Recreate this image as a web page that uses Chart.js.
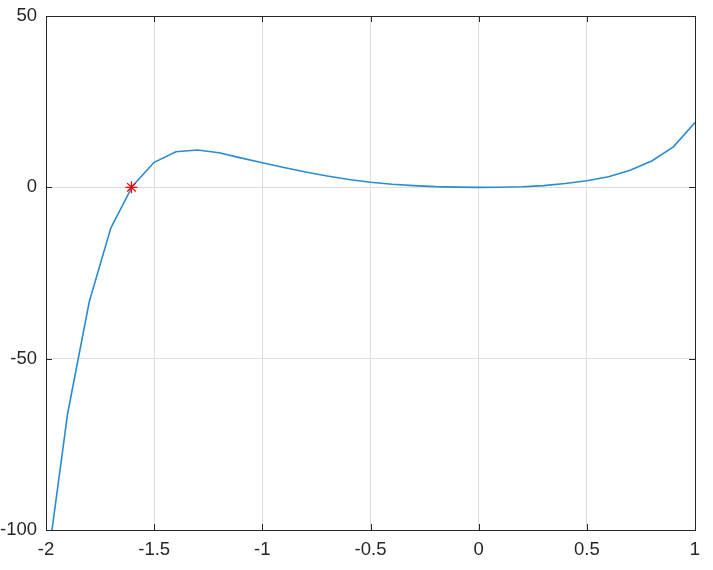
<!DOCTYPE html>
<html>
<head>
<meta charset="utf-8">
<script src="https://cdn.jsdelivr.net/npm/chart.js@4.4.0/dist/chart.umd.min.js"></script>
<style>
html,body{margin:0;padding:0;background:#fff;}
#wrap{width:713px;height:570px;position:relative;}
</style>
</head>
<body>
<div id="wrap"><canvas id="c" width="713" height="570"></canvas></div>
<script>
const xValues = [-2.0,-1.9,-1.8,-1.7,-1.6,-1.5,-1.4,-1.3,-1.2,-1.1,-1.0,-0.9,-0.8,-0.7,-0.6,-0.5,-0.4,-0.3,-0.2,-0.1,0.0,0.1,0.2,0.3,0.4,0.5,0.6,0.7,0.8,0.9,1.0];
const yValues = [-113,-66,-33.4,-11.8,0.4,7.3,10.4,10.9,10.1,8.6,7.2,5.8,4.5,3.3,2.3,1.5,0.9,0.5,0.2,0.05,0,0.03,0.15,0.5,1.1,1.9,3.1,5.0,7.7,11.8,18.9];
const rootX = [-1.605];
const rootY = [0];
const xTicks = [-2,-1.5,-1,-0.5,0,0.5,1];
const xTickLabels = ['-2','-1.5','-1','-0.5','0','0.5','1'];
const yTicks = [-100,-50,0,50];
const yTickLabels = ['-100','-50','0','50'];

const curve = xValues.map((x,i)=>({x:x,y:yValues[i]}));
const root = rootX.map((x,i)=>({x:x,y:rootY[i]}));

const axisColor = '#262626';
const boxTicks = {
  id:'boxTicks',
  afterDatasetsDraw(chart){
    const ctx = chart.ctx, a = chart.chartArea;
    const xs = chart.scales.x, ys = chart.scales.y;
    const L = 6;
    ctx.save();
    ctx.strokeStyle = axisColor;
    ctx.lineWidth = 1;
    ctx.beginPath();
    xTicks.forEach(v=>{
      const px = Math.round(xs.getPixelForValue(v))+0.5;
      ctx.moveTo(px,a.bottom); ctx.lineTo(px,a.bottom-L);
      ctx.moveTo(px,a.top); ctx.lineTo(px,a.top+L);
    });
    yTicks.forEach(v=>{
      const py = Math.round(ys.getPixelForValue(v))+0.5;
      ctx.moveTo(a.left,py); ctx.lineTo(a.left+L,py);
      ctx.moveTo(a.right,py); ctx.lineTo(a.right-L,py);
    });
    ctx.stroke();
    ctx.strokeRect(Math.round(a.left)+0.5, Math.round(a.top)+0.5, Math.round(a.right-a.left), Math.round(a.bottom-a.top));
    ctx.restore();
  }
};

const tickFont = {family:'"Liberation Sans", Arial, sans-serif',size:18.5};

new Chart(document.getElementById('c'),{
  type:'scatter',
  data:{datasets:[
    {data:root, showLine:false, pointStyle:'star', radius:6, borderColor:'#ff0000', backgroundColor:'#ff0000', borderWidth:1.3, pointHoverRadius:6},
    {data:curve, showLine:true, borderColor:'#2a8bd3', borderWidth:1.6, pointRadius:0, pointHoverRadius:0, fill:false, tension:0}
  ]},
  options:{
    responsive:false, animation:false, devicePixelRatio:1,
    layout:{padding:{left:0,top:16,right:18,bottom:0}},
    plugins:{legend:{display:false},tooltip:{enabled:false}},
    scales:{
      x:{type:'linear',min:-2,max:1,
        afterBuildTicks(s){s.ticks = xTicks.map(v=>({value:v}));},
        afterFit(s){s.height=40; s.paddingLeft=0; s.paddingRight=0;},
        grid:{color:'#dedede',drawTicks:false},
        border:{display:false},
        ticks:{color:axisColor,padding:9,maxRotation:0,font:tickFont,
          callback:(v)=>{const i=xTicks.indexOf(v); return i>=0?xTickLabels[i]:'';}}
      },
      y:{type:'linear',min:-100,max:50,
        afterBuildTicks(s){s.ticks = yTicks.map(v=>({value:v}));},
        afterFit(s){s.width=46; s.paddingTop=0; s.paddingBottom=0;},
        grid:{color:'#dedede',drawTicks:false},
        border:{display:false},
        ticks:{color:axisColor,padding:9,font:tickFont,
          callback:(v)=>{const i=yTicks.indexOf(v); return i>=0?yTickLabels[i]:'';}}
      }
    }
  },
  plugins:[boxTicks]
});
</script>
</body>
</html>
